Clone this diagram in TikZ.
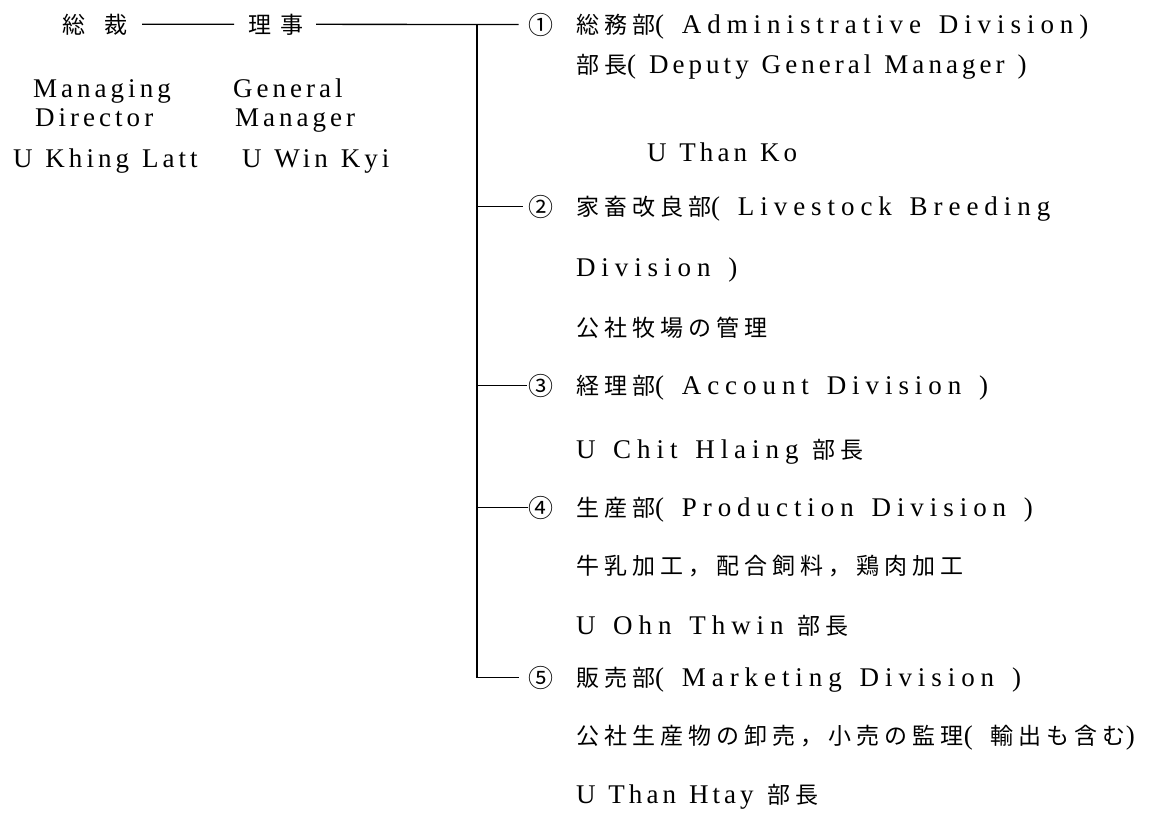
\documentclass[tikz,border=0pt]{standalone}
\usepackage{fontspec}
\setmainfont{Liberation Serif}
\newfontfamily\latw[LetterSpace=22,WordSpace=1.4]{Liberation Serif}
\newfontfamily\latn[LetterSpace=15,WordSpace=1.2]{Liberation Serif}
\newfontfamily\cjw[LetterSpace=22]{Noto Sans CJK JP}
\newfontfamily\cjn{Noto Sans CJK JP}
\newcommand\E[1]{{\latw\fontsize{27}{31}\selectfont #1}}
\newcommand\N[1]{{\latn\fontsize{27}{31}\selectfont #1}}
\newcommand\J[1]{{\cjw\fontsize{23}{27}\selectfont #1}}
\tikzset{
  txt/.style={anchor=base west, inner sep=0pt, outer sep=0pt},
  num/.style={anchor=base, inner sep=0pt, outer sep=0pt, font=\cjn\fontsize{25}{29}\selectfont},
  link/.style={draw=black, line width=1.3pt},
  trunk/.style={draw=black, line width=1.9pt},
}
\begin{document}
\begin{tikzpicture}[x=1pt,y=-1pt]
\useasboundingbox[fill=white] (0,0) rectangle (1171,820);
\coordinate (vx) at (477,0);
% left column
\node[txt, anchor=base] (sousai) at (95,33) {\J{総\hspace{20pt}裁}};
\node[txt, anchor=base] (riji) at (276,33) {\J{理\hspace{10pt}事}};
\node[txt] (md1) at (33,97) {\N{Managing}};
\node[txt] (md2) at (35,126) {\N{Director}};
\node[txt] (md3) at (13,167) {\N{U Khing Latt}};
\node[txt] (gm1) at (233,97) {\N{General}};
\node[txt] (gm2) at (235,126) {\N{Manager}};
\node[txt] (gm3) at (242,167) {\N{U Win Kyi}};
% circled numbers
\node[num] (n1) at (541,34) {①};
\node[num] (n2) at (541,216) {②};
\node[num] (n3) at (541,395) {③};
\node[num] (n4) at (541,517) {④};
\node[num] (n5) at (541,687) {⑤};
% division texts
\node[txt] (t1) at (576,33) {\J{総務部}\E{( Administrative Division)}};
\node[txt] (t1b) at (576,73) {\J{部長}\N{( Deputy General Manager )}};
\node[txt] (t1c) at (647,161) {\N{U Than Ko}};
\node[txt] (t2) at (576,215) {\J{家畜改良部}\E{( Livestock Breeding}};
\node[txt] (t2b) at (576,276) {\E{Division )}};
\node[txt] (t2c) at (576,336) {\J{公社牧場の管理}};
\node[txt] (t3) at (576,394) {\J{経理部}\E{( Account Division )}};
\node[txt] (t3b) at (576,458) {\E{U Chit Hlaing}\hspace{14pt}\J{部長}};
\node[txt] (t4) at (576,516) {\J{生産部}\E{( Production Division )}};
\node[txt] (t4b) at (576,574) {\J{牛乳加工，配合飼料，鶏肉加工}};
\node[txt] (t4c) at (576,634) {\E{U Ohn Thwin}\hspace{14pt}\J{部長}};
\node[txt] (t5) at (576,686) {\J{販売部}\E{( Marketing Division )}};
\node[txt] (t5b) at (576,744) {\J{公社生産物の卸売，小売の監理}\E{( }\J{輸出も含む}\E{)}};
\node[txt] (t5c) at (576,803) {\N{U Than Htay}\hspace{14pt}\J{部長}};
% connectors
\draw[link, shorten <=14pt, shorten >=14pt] (sousai) -- (riji);
\draw[link, shorten <=12pt, shorten >=10pt] (riji) -- (n1);
\draw[trunk] (n1.west -| vx) -- (n5.west -| vx);
\draw[link, shorten >=10pt] (n5.west -| vx) -- (n5.west);
\draw[link, shorten >=6pt] (n2.west -| vx) -- (n2.west);
\draw[link, shorten >=2pt] (n3.west -| vx) -- (n3.west);
\draw[link, shorten >=1pt] (n4.west -| vx) -- (n4.west);
\end{tikzpicture}
\end{document}
